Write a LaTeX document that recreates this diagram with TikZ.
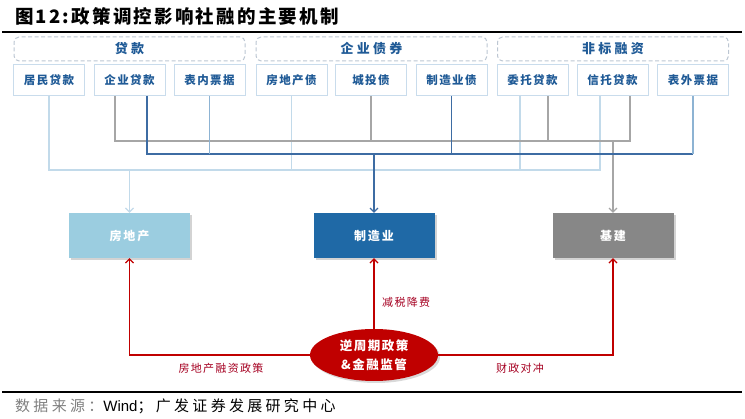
\documentclass[tikz,border=0pt]{standalone}
\usepackage{fontspec}
\newfontfamily\cjk{Noto Sans CJK SC}
\newfontfamily\lat{Liberation Sans}
\usetikzlibrary{arrows.meta,shapes.geometric,shadows}
\definecolor{lbline}{HTML}{C2DAEA}
\definecolor{grline}{HTML}{A6A6A6}
\definecolor{dbline}{HTML}{3D6CA3}
\definecolor{mbline}{HTML}{8DB3D3}
\definecolor{boxedge}{HTML}{C9DCEC}
\definecolor{labtext}{HTML}{1F5A96}
\definecolor{grpedge}{HTML}{BCC6D2}
\definecolor{realfill}{HTML}{9BCDE0}
\definecolor{manufill}{HTML}{1F69A6}
\definecolor{infrafill}{HTML}{878787}
\definecolor{redc}{HTML}{C00000}
\definecolor{redtext}{HTML}{A50021}
\newcommand{\lsp}[1]{\addfontfeatures{LetterSpace=#1}}
\tikzset{
  grpbox/.style={draw=grpedge, line width=1pt, dash pattern=on 4pt off 2.5pt, rounded corners=5pt,
    minimum width=231pt, minimum height=24pt, inner sep=0pt, text=labtext,
    font=\cjk\bfseries\fontsize{13}{13}\selectfont\lsp{25}},
  srcbox/.style={draw=boxedge, line width=1pt, fill=white, minimum width=71pt, minimum height=31pt, inner sep=0pt,
    text=labtext, font=\cjk\bfseries\fontsize{11.5}{12}\selectfont\lsp{12}},
  tgtbox/.style={minimum width=121pt, minimum height=45pt, inner sep=0pt, text=white,
    font=\cjk\bfseries\fontsize{12}{12}\selectfont\lsp{16}, drop shadow={opacity=0.35, shadow xshift=2pt, shadow yshift=-2pt}},
  lbl/.style={draw=lbline, line width=1.2pt},
  grl/.style={draw=grline, line width=1.1pt},
  dbl/.style={draw=dbline, line width=1.1pt},
  mbl/.style={draw=mbline, line width=1.4pt},
  tip/.style={-{Straight Barb[length=4pt,width=8pt]}},
  rdl/.style={draw=redc, line width=1.2pt},
  rdlab/.style={text=redtext, font=\cjk\fontsize{11}{11}\selectfont\lsp{12}, inner sep=0pt},
}
\begin{document}
\begin{tikzpicture}[x=1pt,y=-1pt]
\useasboundingbox (0,0) rectangle (745,419);
% title
\node[anchor=west, inner sep=0pt, font=\cjk\bfseries\fontsize{18.5}{18.5}\selectfont\lsp{12}] (title) at (15,16) {图12:政策调控影响社融的主要机制};
\coordinate (tl1) at (2,32);
\coordinate (tl2) at (742,32);
\draw[line width=1.2pt] (tl1) -- (tl2);
% groups
\node[grpbox] (g1) at (129.5,49) {贷款};
\node[grpbox] (g2) at (371.5,49) {企业债券};
\node[grpbox] (g3) at (613,49) {非标融资};
% source boxes
\node[srcbox] (b1) at (49,80) {居民贷款};
\node[srcbox] (b2) at (129.5,80) {企业贷款};
\node[srcbox] (b3) at (209.5,80) {表内票据};
\node[srcbox] (b4) at (291.5,80) {房地产债};
\node[srcbox] (b5) at (371,80) {城投债};
\node[srcbox] (b6) at (451.5,80) {制造业债};
\node[srcbox] (b7) at (532.5,80) {委托贷款};
\node[srcbox] (b8) at (612.5,80) {信托贷款};
\node[srcbox] (b9) at (693,80) {表外票据};
% target boxes
\node[tgtbox, fill=realfill] (t1) at (129.5,235.5) {房地产};
\node[tgtbox, fill=manufill] (t2) at (374,235.5) {制造业};
\node[tgtbox, fill=infrafill] (t3) at (613,235.5) {基建};
% level coordinates
\coordinate (yG) at (0,141);
\coordinate (yB) at (0,154);
\coordinate (yL) at (0,170);
% light blue (real estate)
\draw[lbl] (b1.south) -- (b1.south |- yL) -| ([xshift=-12.5pt]b8.south);
\draw[lbl] (b4.south) -- (b4.south |- yL);
\draw[lbl] ([xshift=-12.5pt]b7.south) -- ([xshift=-12.5pt]b7.south |- yL);
\draw[lbl,tip] (t1.north |- yL) -- (t1.north);
% gray (infrastructure)
\draw[grl] ([xshift=-14.5pt]b2.south) -- ([xshift=-14.5pt]b2.south |- yG) -| ([xshift=17.5pt]b8.south);
\draw[grl] (b5.south) -- (b5.south |- yG);
\draw[grl] ([xshift=15.5pt]b7.south) -- ([xshift=15.5pt]b7.south |- yG);
\draw[grl,tip] (t3.north |- yG) -- (t3.north);
% blue (manufacturing)
\draw[dbl] ([xshift=17.5pt]b2.south) -- ([xshift=17.5pt]b2.south |- yB) -- (b9.south |- yB);
\draw[dbl] (b6.south) -- (b6.south |- yB);
\draw[mbl] (b3.south) -- (b3.south |- yB);
\draw[mbl] (b9.south) -- (b9.south |- yB);
\draw[dbl,tip] (t2.north |- yB) -- (t2.north);
% policy ellipse
\node[ellipse, fill=redc, minimum width=128pt, minimum height=52pt, inner sep=0pt, text=white,
  align=center, font=\cjk\bfseries\fontsize{12.5}{19}\selectfont\lsp{12},
  drop shadow={opacity=0.3, shadow xshift=2pt, shadow yshift=-2pt}] (el) at (374,355) {逆周期政策\\\&金融监管};
\draw[rdl,tip] (el.west) -| (t1.south);
\draw[rdl,tip] (el.north) -- (t2.south);
\draw[rdl,tip] (el.east) -| (t3.south);
\node[rdlab] (l1) at (221,368) {房地产融资政策};
\node[rdlab, anchor=west] (l2) at (382,302) {减税降费};
\node[rdlab] (l3) at (520,368) {财政对冲};
% footer
\coordinate (fl1) at (2,392);
\coordinate (fl2) at (742,392);
\draw[line width=1.2pt] (fl1) -- (fl2);
\node[anchor=west, inner sep=0pt, font=\fontsize{15}{15}\selectfont] (foot) at (15,406)
  {{\cjk\lsp{22}\color{gray}数据来源：}{\lat Wind}{\cjk\lsp{22}；广发证券发展研究中心}};
\end{tikzpicture}
\end{document}
